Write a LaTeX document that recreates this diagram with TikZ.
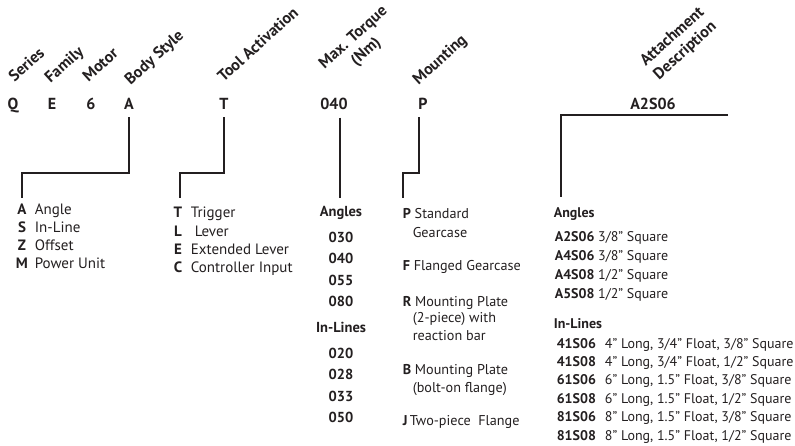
\documentclass[tikz,border=0pt]{standalone}
\usepackage{fontspec}
\setmainfont{PT Sans}
\usepackage{xcolor}
\definecolor{ink}{HTML}{231F20}

\begin{document}
\begin{tikzpicture}[x=1pt,y=-1pt,color=ink,line width=1.6pt,
  hdr/.style={rotate=42,anchor=base west,inner sep=0pt,font=\fontsize{16}{19}\selectfont\bfseries},
  ltr/.style={anchor=base,inner xsep=0pt,inner ysep=6.5pt,font=\fontsize{16}{18}\selectfont\bfseries},
  key/.style={anchor=base,inner sep=0pt,font=\fontsize{15}{17}\selectfont\bfseries},
  num/.style={anchor=base,inner sep=0pt,font=\fontsize{14.5}{17}\selectfont\bfseries},
  txt/.style={anchor=base west,inner sep=0pt,font=\fontsize{15}{17}\selectfont},
  mtx/.style={txt,font=\fontsize{14.2}{17}\selectfont},
  atx/.style={txt,font=\fontsize{14}{17}\selectfont}]
  \useasboundingbox (0,0) rectangle (795,446);
  % column headings
  \node[hdr] (hSeries) at (14,83) {Series};
  \node[hdr] (hFamily) at (50,84) {Family};
  \node[hdr] (hMotor) at (88,83) {Motor};
  \node[hdr] (hBody) at (130,86) {Body Style};
  \node[hdr] (hTool) at (223,83) {Tool Activation};
  \node[hdr,anchor=center,align=center] (hTorque) at (360,45) {Max. Torque\\(Nm)};
  \node[hdr] (hMount) at (418,86) {Mounting};
  \node[hdr,anchor=center,align=center] (hAtt) at (679,44) {Attachment\\Description};
  % model code
  \node[ltr] (cQ) at (13,110) {Q};
  \node[ltr] (cE) at (52,110) {E};
  \node[ltr] (c6) at (91,110) {6};
  \node[ltr] (cA) at (129,110) {A};
  \node[ltr] (cT) at (224,110) {T};
  \node[ltr] (c040) at (334,110) {040};
  \node[ltr] (cP) at (423,110) {P};
  \node[ltr] (cA2) at (653,110) {A2S06};
  % leader lines
  \coordinate (bsTurn) at (22,173);
  \coordinate (bsEnd) at (22,198);
  \coordinate (taTurn) at (180,173);
  \coordinate (taEnd) at (180,198);
  \coordinate (tqEnd) at (340,198);
  \coordinate (mtTurn) at (403,173);
  \coordinate (mtEnd) at (403,198);
  \coordinate (adR) at (728,115);
  \coordinate (adEnd) at (561,197);
  \draw (cA.south) |- (bsTurn) -- (bsEnd);
  \draw (cT.south) |- (taTurn) -- (taEnd);
  \draw (c040.south -| tqEnd) -- (tqEnd);
  \draw ([xshift=-4pt]cP.south) |- (mtTurn) -- (mtEnd);
  \draw (adR) -- (adR -| adEnd) -- (adEnd);
  % body style
  \foreach \k/\t [count=\i] in {A/Angle,S/In-Line,Z/Offset,M/Power Unit}{
    \node[key] (bs\i) at (22,197.3+17.7*\i) {\k};
    \node[txt] (bsT\i) at (34,197.3+17.7*\i) {\t};
  }
  % tool activation
  \foreach \k/\t [count=\i] in {T/Trigger,L/\ Lever,E/Extended Lever,C/Controller Input}{
    \node[key] (ta\i) at (178,199.7+18.3*\i) {\k};
    \node[txt] (taT\i) at (190,199.7+18.3*\i) {\t};
  }
  % torque
  \foreach \v/\y [count=\i] in {Angles/217,030/243,040/264,055/286,080/307,In-Lines/332,020/358,028/379,033/401,050/422}
    \node[num] (tq\i) at (341,\y) {\v};
  % mounting
  \node[mtx] (mP) at (402,219) {\textbf{P} Standard};
  \node[mtx] (mP2) at (412,238) {Gearcase};
  \node[mtx] (mF) at (402,271) {\textbf{F} Flanged Gearcase};
  \node[mtx] (mR) at (402,307) {\textbf{R} Mounting Plate};
  \node[mtx] (mR2) at (412,323) {(2-piece) with};
  \node[mtx] (mR3) at (412,341) {reaction bar};
  \node[mtx] (mB) at (402,374) {\textbf{B} Mounting Plate};
  \node[mtx] (mB2) at (412,392) {(bolt-on flange)};
  \node[mtx] (mJ) at (402,425) {\textbf{J}\,Two-piece\ \ Flange};
  % attachment
  \node[atx,font=\fontsize{14}{17}\selectfont\bfseries] (aAng) at (553,218) {Angles};
  \foreach \k/\t [count=\i] in {A2S06/{3/8" Square},A4S06/{3/8" Square},A4S08/{1/2" Square},A5S08/{1/2" Square}}
    \node[atx] (aa\i) at (554,223.3+18.7*\i) {\textbf{\k} \t};
  \node[atx,font=\fontsize{14}{17}\selectfont\bfseries] (aIn) at (553,328) {In-Lines};
  \foreach \k/\t [count=\i] in {41S06/{4" Long, 3/4" Float, 3/8" Square},41S08/{4" Long, 3/4" Float, 1/2" Square},61S06/{6" Long, 1.5" Float, 3/8" Square},61S08/{6" Long, 1.5" Float, 1/2" Square},81S06/{8" Long, 1.5" Float, 3/8" Square},81S08/{8" Long, 1.5" Float, 1/2" Square}}
    \node[atx] (ai\i) at (556,329.6+18.4*\i) {\textbf{\k}\hspace{9pt}\t};
\end{tikzpicture}
\end{document}
